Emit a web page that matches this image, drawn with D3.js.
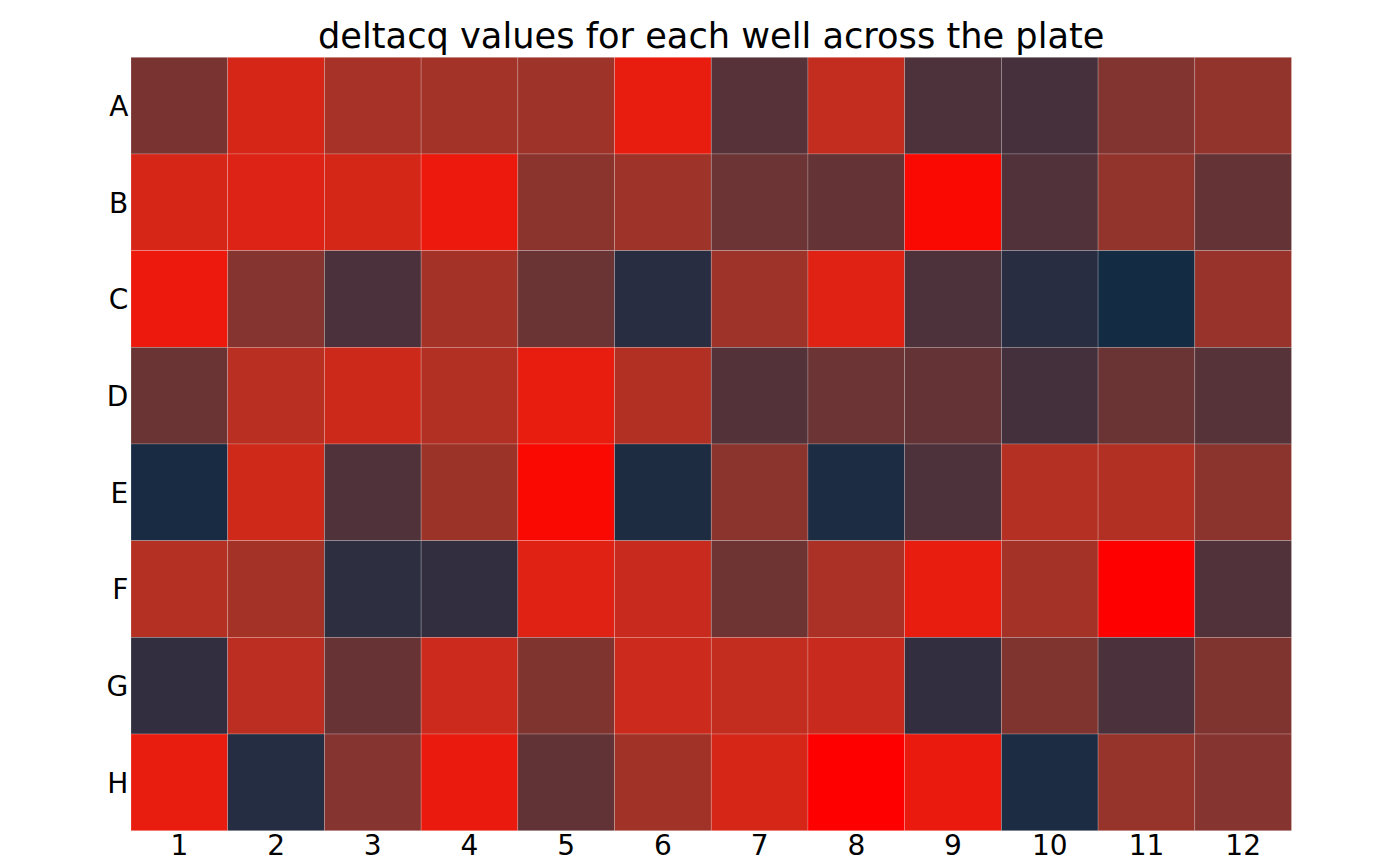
<!DOCTYPE html>
<html>
<head>
<meta charset="utf-8">
<script src="https://cdn.jsdelivr.net/npm/d3@7"></script>
<style>
  html, body { margin: 0; padding: 0; background: #ffffff; }
  svg { display: block; }
  text { font-family: "DejaVu Sans", sans-serif; fill: #000; }
</style>
</head>
<body>
<svg id="chart" width="1400" height="866"></svg>
<script>
// ---- data ----
const rows = ["A", "B", "C", "D", "E", "F", "G", "H"];
const cols = ["1", "2", "3", "4", "5", "6", "7", "8", "9", "10", "11", "12"];
const rowA = [0.40, 0.82, 0.61, 0.59, 0.57, 0.90, 0.25, 0.73, 0.20, 0.165, 0.44, 0.52];
const rowB = [0.82, 0.85, 0.81, 0.92, 0.48, 0.57, 0.34, 0.30, 0.98, 0.22, 0.52, 0.30];
const rowC = [0.92, 0.46, 0.19, 0.60, 0.33, 0.06, 0.57, 0.86, 0.20, 0.055, 0.00, 0.54];
const rowD = [0.33, 0.69, 0.78, 0.66, 0.90, 0.66, 0.23, 0.34, 0.30, 0.16, 0.33, 0.24];
const rowE = [0.01, 0.79, 0.21, 0.56, 0.98, 0.025, 0.48, 0.02, 0.20, 0.67, 0.66, 0.48];
const rowF = [0.67, 0.60, 0.075, 0.09, 0.86, 0.76, 0.35, 0.625, 0.90, 0.60, 1.00, 0.22];
const rowG = [0.09, 0.70, 0.32, 0.77, 0.43, 0.77, 0.73, 0.76, 0.095, 0.43, 0.19, 0.43];
const rowH = [0.90, 0.045, 0.46, 0.91, 0.29, 0.58, 0.82, 1.00, 0.91, 0.02, 0.53, 0.46];
const deltacq = [rowA, rowB, rowC, rowD, rowE, rowF, rowG, rowH];
const title = "deltacq values for each well across the plate";

// ---- layout ----
const W = 1400, H = 866;
const margin = { left: 131, right: 108.5, top: 57.3, bottom: 35.3 };
const svg = d3.select("#chart");

const cells = [];
rows.forEach((r, i) => cols.forEach((c, j) => cells.push({ row: r, col: c, value: deltacq[i][j] })));

const x = d3.scaleBand().domain(cols).range([margin.left, W - margin.right]).padding(0);
const y = d3.scaleBand().domain(rows).range([margin.top, H - margin.bottom]).padding(0);
const ext = d3.extent(cells, d => d.value);
const color = d3.scaleLinear().domain(ext).range(["#132B43", "#FF0000"]).interpolate(d3.interpolateLab);

svg.append("g").selectAll("rect").data(cells).join("rect")
  .attr("x", d => x(d.col))
  .attr("y", d => y(d.row))
  .attr("width", x.bandwidth())
  .attr("height", y.bandwidth())
  .attr("fill", d => color(d.value))
  .attr("stroke", "rgba(255,255,255,0.28)")
  .attr("stroke-width", 0.7);

// axes (no lines, no ticks)
const fs = 28;
const xAxis = d3.axisBottom(x).tickSize(0).tickPadding(0);
const gx = svg.append("g").attr("transform", `translate(0,${H - margin.bottom})`).call(xAxis);
gx.select(".domain").remove();
gx.selectAll("text").attr("font-size", fs).attr("font-family", "DejaVu Sans")
  .attr("fill", "#000").attr("dy", null).attr("y", 24.5);

const yAxis = d3.axisLeft(y).tickSize(0).tickPadding(0);
const gy = svg.append("g").attr("transform", `translate(${margin.left},0)`).call(yAxis);
gy.select(".domain").remove();
gy.selectAll("text").attr("font-size", fs).attr("font-family", "DejaVu Sans")
  .attr("fill", "#000").attr("dy", null).attr("x", -2.7).attr("y", 10.2);

svg.append("text")
  .attr("x", (margin.left + W - margin.right) / 2)
  .attr("y", 47.5)
  .attr("text-anchor", "middle")
  .attr("font-size", 35.2)
  .text(title);
</script>
</body>
</html>
